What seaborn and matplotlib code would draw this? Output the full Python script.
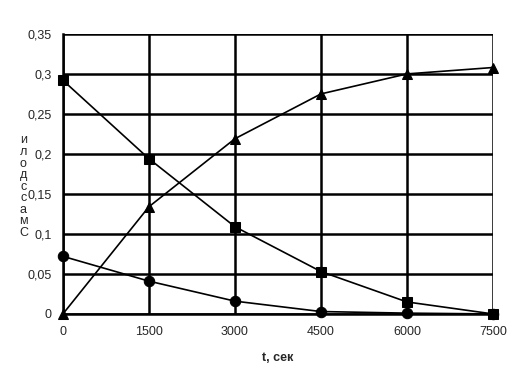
import pandas as pd
import matplotlib
matplotlib.use("Agg")
import matplotlib.pyplot as plt
import seaborn as sns

# Данные с графика
t = [0, 1500, 3000, 4500, 6000, 7500]
squares = [0.292, 0.194, 0.109, 0.053, 0.015, 0.0]
triangles = [0.0, 0.134, 0.219, 0.275, 0.300, 0.308]
circles = [0.072, 0.041, 0.016, 0.003, 0.001, 0.0]
y_ticks = [0, 0.05, 0.1, 0.15, 0.2, 0.25, 0.3, 0.35]
y_labels = ["0", "0,05", "0,1", "0,15", "0,2", "0,25", "0,3", "0,35"]

sns.set_style("white")
plt.rcParams["font.family"] = ["Liberation Sans", "DejaVu Sans"]

df = pd.DataFrame({"t": t * 3,
                   "v": squares + triangles + circles,
                   "s": ["sq"] * 6 + ["tr"] * 6 + ["ci"] * 6})

fig = plt.figure(figsize=(5.2, 3.81), dpi=100)
ax = fig.add_axes([0.121, 0.176, 0.827, 0.735])

sns.lineplot(data=df, x="t", y="v", hue="s", style="s",
             palette=["black"] * 3, markers={"sq": "s", "tr": "^", "ci": "o"},
             dashes=False, markersize=7.5, markeredgecolor="black",
             linewidth=1.2, legend=False, ax=ax)

ax.set_xlim(0, 7500)
ax.set_ylim(0, 0.35)
ax.set_xticks(t)
ax.set_yticks(y_ticks)
ax.set_yticklabels(y_labels)
ax.grid(True, color="black", linewidth=1.8)
ax.set_axisbelow(True)
for side in ["top", "right"]:
    ax.spines[side].set_visible(False)
for side in ["left", "bottom"]:
    ax.spines[side].set_linewidth(1.8)
    ax.spines[side].set_color("black")
ax.tick_params(axis="y", length=5, width=1.8, labelsize=9, pad=3)
ax.tick_params(axis="x", length=0, labelsize=9, pad=9)
for line in ax.lines:
    line.set_clip_on(False)

ax.set_xlabel("t, сек", fontsize=9, fontweight="bold", labelpad=10)
ax.set_ylabel("")
fig.text(0.045, 0.51, "и\nл\nо\nд\nс\nс\nа\nм\nС", ha="center", va="center",
         fontsize=9, linespacing=0.95)

fig.savefig("out.png", dpi=100)
